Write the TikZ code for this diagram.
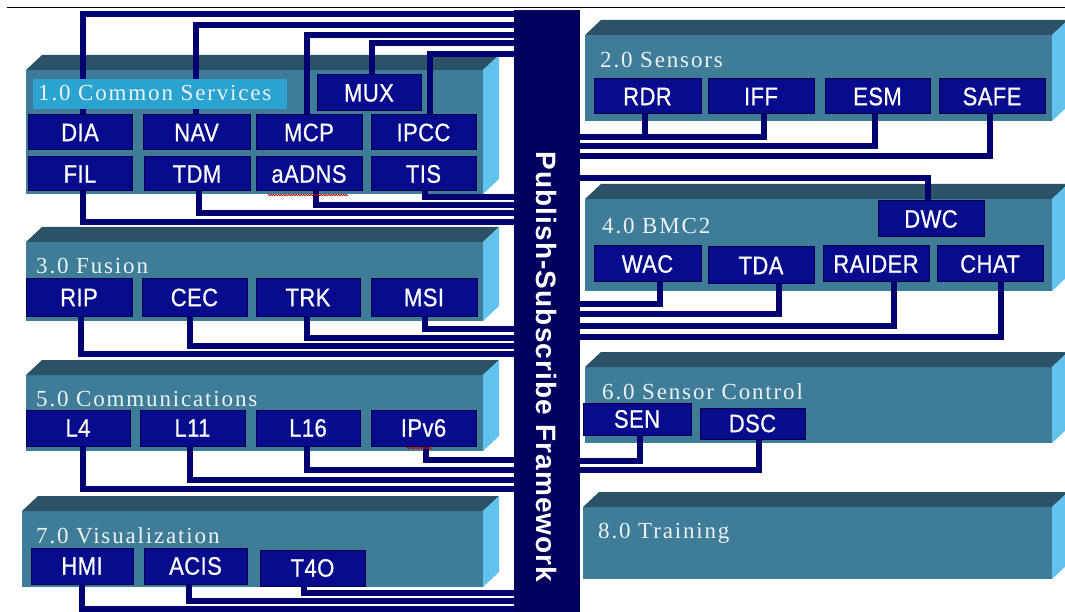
\documentclass[tikz,border=0pt]{standalone}
\usepackage{fontspec}
\usepackage{graphicx}
\setmainfont{Liberation Serif}
\newfontfamily\boxfont[LetterSpace=2,FakeBold=0.6]{Liberation Sans}
\newfontfamily\lblfont[LetterSpace=8]{Liberation Serif}
\newfontfamily\busfont[LetterSpace=4]{Liberation Sans}
\usetikzlibrary{decorations.pathmorphing}

\definecolor{frontc}{HTML}{3E7C98}
\definecolor{topc}{HTML}{2B5266}
\definecolor{sidec}{HTML}{62C2EE}
\definecolor{hlc}{HTML}{2AA3D0}
\definecolor{boxc}{HTML}{060C8C}
\definecolor{boxedge}{HTML}{00004D}
\definecolor{connc}{HTML}{000070}
\definecolor{busc}{HTML}{00005E}
\definecolor{lblc}{HTML}{EEF1F3}

\tikzset{
  front/.style={fill=frontc, inner sep=0pt, outer sep=0pt, anchor=north west},
  topface/.style={fill=topc},
  sideface/.style={fill=sidec},
  unitbox/.style={fill=boxc, draw=boxedge, line width=1pt, inner sep=0pt, outer sep=0pt,
    anchor=north west, text=white, font=\boxfont\fontsize{22}{24}\selectfont},
  conn/.style={draw=connc, line width=6.5pt},
  blklabel/.style={anchor=base west, inner sep=0pt, text=lblc, font=\lblfont\fontsize{23}{25}\selectfont},
  hilite/.style={fill=hlc, inner sep=0pt, outer sep=0pt, anchor=north west},
  busbar/.style={fill=busc, inner sep=0pt, outer sep=0pt, anchor=north west},
  bustext/.style={text=white, inner sep=0pt, font=\busfont\bfseries\fontsize{28}{30}\selectfont, rotate=-90},
  squiggle/.style={draw=red!75!black, line width=0.7pt, decorate,
    decoration={zigzag, amplitude=0.8pt, segment length=2.5pt}},
}

\newcommand\mkblock[5]{%
  \node[front, minimum width={(#4-#2)*1pt}, minimum height={(#5-#3)*1pt}] (#1) at (#2,#3) {};
  \fill[topface] (#1.north west) -- ++(16,-15) -- ([shift={(16,-15)}]#1.north east) -- (#1.north east) -- cycle;
  \fill[sideface] (#1.north east) -- ([shift={(16,-15)}]#1.north east) -- ([shift={(16,-15)}]#1.south east) -- (#1.south east) -- cycle;
}
\newcommand\mkbox[6]{%
  \node[unitbox, minimum width={(#4-#2)*1pt}, minimum height={(#5-#3)*1pt}] (#1) at (#2,#3) {\scalebox{1}[1.15]{#6}};
}

\begin{document}
\begin{tikzpicture}[x=1pt,y=-1pt]
\useasboundingbox (0,0) rectangle (1065,612);
\fill[white] (0,0) rectangle (1065,612);

% blocks
\mkblock{B1}{26}{70}{483}{194}
\mkblock{B3}{26}{242}{483}{321}
\mkblock{B5}{26}{375}{483}{451}
\mkblock{B7}{22}{511}{483}{587}
\mkblock{B2}{585}{35}{1052}{121}
\mkblock{B4}{585}{199}{1052}{291}
\mkblock{B6}{585}{367}{1052}{443}
\mkblock{B8}{583}{507}{1052}{579}

% top rule
\draw[line width=1.6pt, black] (7,7.5) -- (1065,7.5);

% bus
\node[busbar, minimum width=66pt, minimum height=602pt] (bus) at (514,10) {};
\node[bustext] (bustxt) at (547,367) {Publish-Subscribe Framework};

% block 1 boxes defined first so connectors can refer to them
\mkbox{DIA}{28}{115}{132}{150}{DIA}
\mkbox{NAV}{143}{115}{250}{150}{NAV}
\mkbox{MCP}{256}{115}{362}{150}{MCP}
\mkbox{IPCC}{371}{115}{476}{150}{IPCC}
\mkbox{FIL}{28}{157}{132}{191}{FIL}
\mkbox{TDM}{144}{157}{250}{191}{TDM}
\mkbox{aADNS}{256}{157}{362}{191}{aADNS}
\mkbox{TIS}{371}{157}{476}{191}{TIS}
\mkbox{MUX}{317}{75}{421}{111}{MUX}

% connectors, block 1
\draw[conn] (83,0 |- DIA.north) |- (bus.west |- 0,14);
\draw[conn] (196,0 |- NAV.north) |- (bus.west |- 0,25);
\draw[conn] (307,0 |- MCP.north) |- (bus.west |- 0,35);
\draw[conn] (372,0 |- MUX.north) |- (bus.west |- 0,43);
\draw[conn] (430,0 |- IPCC.north) |- (bus.west |- 0,54);
\draw[conn] (425,0 |- TIS.south) |- (bus.west |- 0,197);
\draw[conn] (316,0 |- aADNS.south) |- (bus.west |- 0,205);
\draw[conn] (199,0 |- TDM.south) |- (bus.west |- 0,213);
\draw[conn] (83,0 |- FIL.south) |- (bus.west |- 0,222);

% highlight and block labels
\node[hilite, minimum width=254pt, minimum height=30pt] (hl1) at (33,79) {};
\node[blklabel] (lab1) at (38,101) {1.0 Common Services};
\node[blklabel] (lab3) at (36,274) {3.0 Fusion};
\node[blklabel] (lab5) at (36,406) {5.0 Communications};
\node[blklabel] (lab7) at (36,543) {7.0 Visualization};
\node[blklabel] (lab2) at (600,68) {2.0 Sensors};
\node[blklabel] (lab4) at (602,234) {4.0 BMC2};
\node[blklabel] (lab6) at (602,399) {6.0 Sensor Control};
\node[blklabel] (lab8) at (598,538) {8.0 Training};

% redraw block-1 boxes above connectors
\mkbox{DIA}{28}{115}{132}{150}{DIA}
\mkbox{NAV}{143}{115}{250}{150}{NAV}
\mkbox{MCP}{256}{115}{362}{150}{MCP}
\mkbox{IPCC}{371}{115}{476}{150}{IPCC}
\mkbox{FIL}{28}{157}{132}{191}{FIL}
\mkbox{TDM}{144}{157}{250}{191}{TDM}
\mkbox{aADNS}{256}{157}{362}{191}{aADNS}
\mkbox{TIS}{371}{157}{476}{191}{TIS}
\mkbox{MUX}{317}{75}{421}{111}{MUX}

% block 3
\mkbox{RIP}{26}{279}{132}{316}{RIP}
\mkbox{CEC}{142}{279}{247}{316}{CEC}
\mkbox{TRK}{256}{279}{360}{316}{TRK}
\mkbox{MSI}{371}{279}{477}{316}{MSI}
\draw[conn] (425,0 |- MSI.south) |- (bus.west |- 0,329);
\draw[conn] (307,0 |- TRK.south) |- (bus.west |- 0,338);
\draw[conn] (190,0 |- CEC.south) |- (bus.west |- 0,346);
\draw[conn] (81,0 |- RIP.south) |- (bus.west |- 0,354);

% block 5
\mkbox{L4}{26}{410}{130}{446}{L4}
\mkbox{L11}{140}{410}{245}{446}{L11}
\mkbox{L16}{256}{410}{360}{446}{L16}
\mkbox{IPv6}{371}{410}{476}{446}{IPv6}
\draw[conn] (426,0 |- IPv6.south) |- (bus.west |- 0,460);
\draw[conn] (307,0 |- L16.south) |- (bus.west |- 0,470);
\draw[conn] (190,0 |- L11.south) |- (bus.west |- 0,480);
\draw[conn] (83,0 |- L4.south) |- (bus.west |- 0,489);

% block 7
\mkbox{HMI}{31}{548}{133}{584}{HMI}
\mkbox{ACIS}{144}{548}{247}{584}{ACIS}
\mkbox{T4O}{260}{550}{365}{586}{T4O}
\draw[conn] (304,0 |- T4O.south) |- (bus.west |- 0,593);
\draw[conn] (189,0 |- ACIS.south) |- (bus.west |- 0,601);
\draw[conn] (82,0 |- HMI.south) |- (bus.west |- 0,609);

% block 2
\mkbox{RDR}{594}{79}{701}{114}{RDR}
\mkbox{IFF}{708}{79}{814}{114}{IFF}
\mkbox{ESM}{825}{79}{930}{114}{ESM}
\mkbox{SAFE}{939}{79}{1045}{114}{SAFE}
\draw[conn] (645,0 |- RDR.south) |- (bus.east |- 0,137);
\draw[conn] (764,0 |- IFF.south) |- (bus.east |- 0,137);
\draw[conn] (875,0 |- ESM.south) |- (bus.east |- 0,146);
\draw[conn] (990,0 |- SAFE.south) |- (bus.east |- 0,156);

% block 4
\mkbox{DWC}{878}{201}{984}{237}{DWC}
\draw[conn] (928,0 |- DWC.north) |- (bus.east |- 0,178);
\mkbox{DWC}{878}{201}{984}{237}{DWC}
\mkbox{WAC}{594}{246}{701}{282}{WAC}
\mkbox{TDA}{708}{247}{814}{284}{TDA}
\mkbox{RAIDER}{823}{246}{929}{282}{RAIDER}
\mkbox{CHAT}{937}{246}{1043}{282}{CHAT}
\draw[conn] (660,0 |- WAC.south) |- (bus.east |- 0,304);
\draw[conn] (779,0 |- TDA.south) |- (bus.east |- 0,314);
\draw[conn] (894,0 |- RAIDER.south) |- (bus.east |- 0,326);
\draw[conn] (1001,0 |- CHAT.south) |- (bus.east |- 0,337);

% block 6
\mkbox{SEN}{583}{403}{691}{435}{SEN}
\mkbox{DSC}{700}{408}{805}{439}{DSC}
\draw[conn] (640,0 |- SEN.south) |- (bus.east |- 0,461);
\draw[conn] (759,0 |- DSC.south) |- (bus.east |- 0,470);

% spell-check marks
\draw[squiggle] ([shift={(12,4)}]aADNS.south west) -- ([shift={(-14,4)}]aADNS.south east);
\draw[squiggle] ([shift={(36,2)}]IPv6.south west) -- ([shift={(-44,2)}]IPv6.south east);
\end{tikzpicture}
\end{document}
